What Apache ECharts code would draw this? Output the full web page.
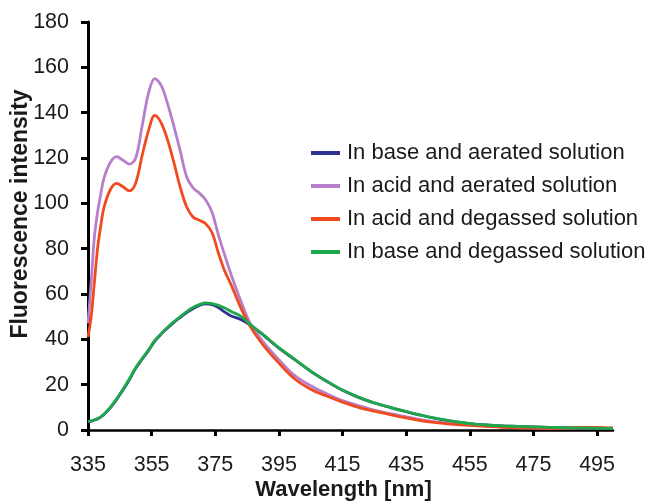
<!DOCTYPE html>
<html>
<head>
<meta charset="utf-8">
<script src="https://cdn.jsdelivr.net/npm/echarts@6/dist/echarts.min.js"></script>
<style>
  html, body { margin: 0; padding: 0; background: #ffffff; }
  #chart { width: 650px; height: 504px; }
</style>
</head>
<body>
<div id="chart"></div>
<script>
// Emission wavelengths (nm) shared by all four spectra
const wavelengths = [335, 336, 337, 338, 339, 340, 342, 344, 346, 348, 350, 352, 354, 356, 358, 360,
  362, 364, 366, 368, 370, 372, 374, 376, 378, 380, 383, 386, 390, 395, 400, 405, 410, 415, 420,
  425, 430, 435, 440, 445, 450, 455, 460, 465, 470, 475, 480, 485, 490, 495, 500];

const baseAerated = [3.5, 3.9, 4.4, 4.9, 5.7, 6.8, 9.8, 13.5, 17.6, 22.2, 27.2, 31.2, 35.0, 39.2, 42.3,
  45.0, 47.5, 49.7, 51.8, 53.5, 55.0, 55.7, 55.3, 54.0, 52.0, 50.3, 48.8, 46.3, 42.0, 36.1, 31.0,
  25.9, 21.5, 17.5, 14.4, 11.9, 9.9, 8.1, 6.4, 4.9, 3.7, 2.8, 2.2, 1.8, 1.6, 1.4, 1.2, 1.0, 0.9, 0.8, 0.7];

const acidAerated = [47, 65, 85, 96, 104, 111, 118, 120.6, 119, 117.3, 120, 134, 148.5, 155, 152,
  144, 134, 123, 111.7, 106.8, 104.5, 101.5, 96, 86, 77, 68.5, 57, 47, 39, 31, 24,
  19.5, 16, 13, 10.8, 8.8, 7.2, 5.8, 4.5, 3.5, 2.8, 2.2, 1.8, 1.4, 1.1, 0.9, 0.8, 0.8, 0.9, 0.9, 0.8];

const acidDegassed = [41, 50, 65, 80, 90, 98, 106, 108.8, 107.3, 105.5, 109, 121, 132, 138.8, 135.5,
  128, 118, 107, 98.5, 94, 92.5, 91, 87, 78, 70, 64, 54, 45.6, 37.5, 29.5, 22.5,
  18, 15, 12.3, 10, 8.3, 6.8, 5.3, 4, 3.2, 2.5, 2, 1.6, 1.2, 1, 0.8, 0.7, 0.8, 1.2, 1.2, 0.9];

const baseDegassed = [3.7, 4.0, 4.5, 5.0, 5.8, 7.0, 10.0, 13.8, 18.0, 22.5, 27.5, 31.5, 35.3, 39.5, 42.5,
  45.3, 47.8, 50.0, 52.2, 54.0, 55.3, 56.1, 55.8, 55.0, 53.8, 52.3, 50.2, 46.5, 42.2, 36.3, 31.2,
  26.0, 21.6, 17.6, 14.5, 12.0, 10.0, 8.2, 6.5, 5.0, 3.8, 2.8, 2.2, 1.8, 1.6, 1.4, 1.2, 1.0, 0.9, 0.8, 0.7];

const seriesNames = [
  'In base and aerated solution',
  'In acid and aerated solution',
  'In acid and degassed solution',
  'In base and degassed solution'
];
const seriesValues = [baseAerated, acidAerated, acidDegassed, baseDegassed];
const seriesColors = ['#2e3192', '#b77fcb', '#f24a1f', '#1fa84a'];

const xTicks = [335, 355, 375, 395, 415, 435, 455, 475, 495];
const yTicks = [0, 20, 40, 60, 80, 100, 120, 140, 160, 180];

const font = 'Liberation Sans, Arial, sans-serif';

const chart = echarts.init(document.getElementById('chart'), null, { renderer: 'canvas' });

chart.setOption({
  animation: false,
  backgroundColor: '#ffffff',
  grid: { left: 88, right: 37, top: 22, bottom: 74, containLabel: false, outerBoundsMode: 'none' },
  legend: {
    orient: 'vertical',
    left: 306,
    top: 137,
    icon: 'rect',
    itemWidth: 29,
    itemHeight: 4,
    itemGap: 11,
    textStyle: { fontFamily: font, fontSize: 22, color: '#1a1a1a', lineHeight: 20, padding: [0, 0, 0, 2] },
    data: seriesNames
  },
  xAxis: {
    type: 'value',
    min: 335,
    max: 500,
    name: 'Wavelength [nm]',
    nameLocation: 'middle',
    nameGap: 49,
    nameMoveOverlap: false,
    nameTextStyle: { fontFamily: font, fontSize: 22, fontWeight: 'bold', color: '#1a1a1a', padding: [0, 14, 0, 0] },
    splitLine: { show: false },
    axisLine: { show: true, onZero: false, lineStyle: { color: '#000', width: 2.5 } },
    axisTick: { show: true, customValues: xTicks, length: 6, lineStyle: { color: '#000', width: 3 } },
    axisLabel: { customValues: xTicks, margin: 24, fontFamily: font, fontSize: 21.5, color: '#1a1a1a' }
  },
  yAxis: {
    type: 'value',
    min: 0,
    max: 180,
    interval: 20,
    name: 'Fluorescence intensity',
    nameLocation: 'middle',
    nameGap: 56,
    nameMoveOverlap: false,
    nameTextStyle: { fontFamily: font, fontSize: 23, fontWeight: 'bold', color: '#1a1a1a', padding: [0, 0, 0, 24] },
    splitLine: { show: false },
    axisLine: { show: true, lineStyle: { color: '#000', width: 3 } },
    axisTick: { show: true, customValues: yTicks, length: 7, lineStyle: { color: '#000', width: 3 } },
    axisLabel: { customValues: yTicks, margin: 19, fontFamily: font, fontSize: 21.5, color: '#1a1a1a' }
  },
  series: seriesNames.map((name, k) => ({
    name: name,
    type: 'line',
    showSymbol: false,
    smooth: 0.35,
    color: seriesColors[k],
    lineStyle: { width: 2.8, color: seriesColors[k] },
    data: wavelengths.map((w, i) => [w, seriesValues[k][i]])
  }))
});
</script>
</body>
</html>
